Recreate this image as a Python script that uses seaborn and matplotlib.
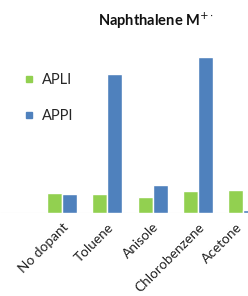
import numpy as np
import pandas as pd
import matplotlib
matplotlib.use('Agg')
import matplotlib.pyplot as plt
import matplotlib.transforms as mtransforms
from matplotlib.lines import Line2D
import seaborn as sns

# data (arbitrary intensity units)
dopants = ['No dopant', 'Toluene', 'Anisole', 'Chlorobenzene', 'Acetone']
apli = [20, 18.5, 16, 21.5, 23]
appi = [19, 139, 27.5, 155.5, 3]
series = ['APLI', 'APPI']
colors = ['#92D050', '#4F81BD']

df = pd.DataFrame({
    'Dopant': dopants * 2,
    'Intensity': apli + appi,
    'Mode': ['APLI'] * len(dopants) + ['APPI'] * len(dopants),
})

sns.set_style('white')
plt.rcParams['font.family'] = ['Lato', 'DejaVu Sans']

fig = plt.figure(figsize=(2.48, 2.96), dpi=100)
ax = fig.add_axes([0, 0.2818, 1, 0.583])

sns.barplot(data=df, x='Dopant', y='Intensity', hue='Mode', order=dopants,
            hue_order=series, palette=colors, width=0.66, saturation=1,
            legend=False, ax=ax)

ax.set_xlim(-1.37, 4.106)
ax.set_ylim(0, 172.6)
ax.axhline(0, color='#e6e6e6', lw=0.8, zorder=0)
for s in ax.spines.values():
    s.set_visible(False)
ax.set_yticks([])
ax.set_xlabel('')
ax.set_ylabel('')
ax.tick_params(axis='x', length=0, pad=6, labelsize=9.8, labelcolor='#222222')
plt.setp(ax.get_xticklabels(), rotation=45, ha='right', rotation_mode='anchor')

# last label sits at the cropped edge, nudge it left so it stays inside
last = ax.get_xticklabels()[-1]
last.set_transform(last.get_transform() +
                   mtransforms.ScaledTranslation(-7 / 100, 0, fig.dpi_scale_trans))

fig.text(0.63, 0.93, r'Naphthalene M$^{+\cdot}$', ha='center', va='center',
         fontsize=10.5, fontweight='bold', color='#111111')

handles = [Line2D([], [], marker='s', ls='', markersize=5, color=c) for c in colors]
fig.legend(handles, series, loc='upper left', bbox_to_anchor=(0.093, 0.753),
           frameon=False, fontsize=10.5, handlelength=0.8, handletextpad=0.5,
           labelspacing=1.5, borderpad=0, borderaxespad=0)

fig.savefig('out.png', dpi=100)
